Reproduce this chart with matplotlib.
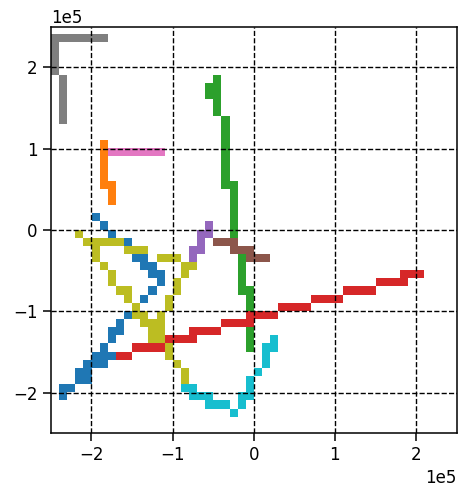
import numpy as np
import matplotlib
matplotlib.use("Agg")
import matplotlib.pyplot as plt
from matplotlib.colors import ListedColormap

# grid of 50 x 50 cells, each cell 1e4 wide, covering -2.5e5 .. 2.5e5
CELL = 1e4
N = 50

# each track is a list of blocks (col0, col1, row0, row1), inclusive, in cell units
blue = [(-20, -20, 1, 1), (-19, -19, 0, 0), (-18, -18, -1, -1), (-17, -16, -2, -2),
        (-16, -15, -3, -3), (-15, -14, -4, -4), (-14, -13, -5, -5), (-13, -12, -6, -6),
        (-12, -12, -7, -7), (-13, -13, -8, -8), (-14, -14, -9, -9), (-15, -15, -10, -10),
        (-16, -16, -11, -11), (-17, -17, -12, -12), (-18, -17, -13, -13), (-18, -18, -14, -14),
        (-19, -19, -15, -15), (-20, -18, -16, -16), (-21, -19, -17, -17), (-22, -21, -18, -18),
        (-22, -21, -19, -19), (-24, -23, -20, -20), (-24, -24, -21, -21)]
orange = [(-19, -19, 5, 10), (-18, -18, 3, 5)]
green = [(-6, -6, 16, 17), (-5, -5, 14, 18), (-4, -4, 5, 13), (-3, -3, -2, 5),
         (-2, -2, -8, -3), (-1, -1, -15, -8)]
red = [(-17, -16, -16, -16), (-15, -12, -15, -15), (-11, -8, -14, -14), (-8, -5, -13, -13),
       (-4, -1, -12, -12), (-1, 2, -11, -11), (3, 6, -10, -10), (7, 10, -9, -9),
       (11, 14, -8, -8), (15, 18, -7, -7), (18, 20, -6, -6)]
purple = [(-6, -6, 0, 0), (-7, -6, -1, -1), (-7, -7, -2, -2), (-8, -7, -3, -3), (-8, -8, -4, -4)]
brown = [(-5, -3, -2, -2), (-3, -1, -3, -3), (-1, 1, -4, -4)]
pink = [(-18, -12, 9, 9)]
gray = [(-25, -19, 23, 23), (-25, -25, 19, 22), (-24, -24, 13, 18)]
olive = [(-22, -22, -1, -1), (-21, -17, -2, -2), (-20, -20, -4, -3), (-16, -14, -3, -3),
         (-12, -10, -4, -4), (-19, -19, -5, -5), (-9, -8, -5, -5), (-18, -18, -7, -6),
         (-9, -9, -6, -6), (-10, -10, -8, -7), (-17, -16, -8, -8), (-16, -16, -9, -9),
         (-11, -11, -10, -9), (-15, -15, -10, -10), (-15, -14, -11, -11), (-12, -12, -11, -11),
         (-14, -12, -12, -12), (-13, -12, -14, -13), (-11, -11, -16, -15), (-10, -10, -17, -17),
         (-9, -9, -19, -18)]
cyan = [(-9, -8, -20, -20), (-8, -6, -21, -21), (-6, -4, -22, -22), (-3, -3, -23, -23),
        (-2, -2, -22, -21), (-1, -1, -21, -19), (0, 0, -18, -18), (1, 1, -17, -15),
        (2, 2, -15, -14)]

tracks = [blue, orange, green, red, purple, brown, pink, gray, olive, cyan]

# paint the tracks into an index grid, later tracks on top
grid = np.full((N, N), np.nan)
off = N // 2
for k, blocks in enumerate(tracks):
    for c0, c1, r0, r1 in blocks:
        ca, cb = sorted((c0, c1))
        ra, rb = sorted((r0, r1))
        grid[ra + off:rb + off + 1, ca + off:cb + off + 1] = k

cmap = ListedColormap(plt.get_cmap("tab10").colors)
cmap.set_bad(alpha=0)

fig = plt.figure(figsize=(4.58, 4.95), dpi=100)
ax = fig.add_axes([50.7 / 458, 61.7 / 495, 406 / 458, 406.6 / 495])
half = off * CELL
ax.imshow(np.ma.masked_invalid(grid), cmap=cmap, vmin=-0.5, vmax=9.5, origin="lower",
          extent=(-half, half, -half, half), interpolation="nearest", aspect="auto")
ax.set_xlim(-half, half)
ax.set_ylim(-half, half)
ax.set_xticks([-2e5, -1e5, 0, 1e5, 2e5])
ax.set_yticks([-2e5, -1e5, 0, 1e5, 2e5])
ax.ticklabel_format(style="sci", axis="both", scilimits=(0, 0))
ax.tick_params(labelsize=12, length=5.5, width=1.1, pad=4)
ax.xaxis.get_offset_text().set_fontsize(12)
ax.yaxis.get_offset_text().set_fontsize(12)
for s in ax.spines.values():
    s.set_linewidth(1.1)
ax.grid(True, color="black", linestyle="--", linewidth=1.0)

fig.savefig("out.png", dpi=100)
